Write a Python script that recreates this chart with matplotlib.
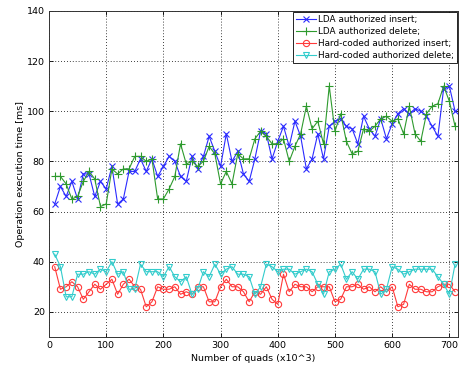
import matplotlib
matplotlib.use("Agg")
import matplotlib.pyplot as plt
import numpy as np

quads = list(range(10, 720, 10))

lda_insert = [63, 70, 66, 72, 65, 75, 75, 66, 72, 69,
              78, 63, 65, 76, 76, 81, 76, 81, 74, 78,
              82, 80, 74, 72, 82, 77, 82, 90, 84, 78,
              91, 80, 84, 75, 72, 81, 92, 91, 81, 88,
              94, 86, 96, 90, 77, 81, 91, 81, 94, 96,
              97, 94, 93, 87, 98, 93, 90, 97, 89, 95,
              99, 101, 99, 101, 100, 98, 94, 90, 109, 110,
              100]

lda_delete = [74, 74, 71, 65, 66, 72, 76, 73, 62, 63,
              77, 75, 77, 77, 82, 82, 80, 81, 65, 65,
              69, 74, 87, 79, 80, 78, 80, 86, 83, 71,
              76, 71, 83, 81, 81, 89, 92, 90, 87, 87,
              89, 80, 86, 91, 102, 93, 96, 87, 110, 92,
              99, 88, 83, 84, 93, 92, 94, 97, 98, 96,
              97, 91, 102, 91, 88, 99, 102, 103, 110, 104,
              94]

hc_insert = [38, 29, 30, 32, 30, 25, 28, 31, 29, 31,
             33, 27, 31, 33, 30, 29, 22, 24, 30, 29,
             29, 30, 27, 28, 27, 30, 30, 24, 24, 30,
             33, 30, 30, 28, 24, 28, 27, 30, 25, 23,
             35, 28, 31, 30, 30, 28, 30, 30, 30, 24,
             25, 30, 30, 31, 29, 30, 28, 30, 28, 30,
             22, 23, 31, 29, 29, 28, 28, 30, 31, 31,
             28]

hc_delete = [43, 38, 26, 26, 35, 35, 36, 35, 37, 36,
             40, 35, 36, 29, 29, 39, 36, 36, 36, 34,
             38, 34, 32, 34, 27, 29, 36, 34, 39, 35,
             37, 38, 35, 35, 34, 27, 30, 39, 38, 36,
             37, 37, 35, 36, 37, 36, 31, 27, 36, 37,
             39, 33, 36, 33, 37, 37, 36, 27, 29, 38,
             37, 35, 36, 37, 37, 37, 37, 34, 31, 27,
             39]

labels = ["LDA authorized insert;", "LDA authorized delete;",
          "Hard-coded authorized insert;", "Hard-coded authorized delete;"]
xticks = [0, 100, 200, 300, 400, 500, 600, 700]
yticks = [20, 40, 60, 80, 100, 120, 140]

plt.rcParams['font.family'] = ['DejaVu Sans']
fig = plt.figure(figsize=(4.6, 3.65), dpi=100)
ax = fig.add_axes([0.1065, 0.077, 0.889, 0.893])

lw = 0.8
ax.plot(quads, lda_insert, color='#2b2bff', marker='x', markersize=5, mew=0.8, lw=lw, label=labels[0])
ax.plot(quads, lda_delete, color='#2e9a2e', marker='+', markersize=5.5, mew=0.8, lw=lw, label=labels[1])
ax.plot(quads, hc_insert, color='#ff3a3a', marker='o', markersize=4.5, mfc='none', mew=0.8, lw=lw, label=labels[2])
ax.plot(quads, hc_delete, color='#33cccc', marker='v', markersize=4.5, mfc='none', mew=0.8, lw=lw, label=labels[3])

ax.set_xlim(0, 715)
ax.set_ylim(10, 140)
ax.set_xticks(xticks)
ax.set_yticks(yticks)
ax.tick_params(direction='in', labelsize=6.8, length=3, width=0.6, top=True, right=True, pad=3)
ax.grid(True, color='black', linestyle=(0, (1, 2.5)), linewidth=0.6)
for s in ax.spines.values():
    s.set_linewidth(0.7)
    s.set_color('#333333')
ax.set_xlabel("Number of quads (x10^3)", fontsize=6.8, labelpad=2.5)
ax.set_ylabel("Operation execution time [ms]", fontsize=6.8, labelpad=1)

leg = ax.legend(loc='upper right', fontsize=6.4, frameon=True, fancybox=False,
                edgecolor='black', framealpha=1, borderpad=0.35, labelspacing=0.35,
                handlelength=2.2, handletextpad=0.25, borderaxespad=0.1)
leg.get_frame().set_linewidth(0.6)

fig.savefig("out.png", dpi=100)
